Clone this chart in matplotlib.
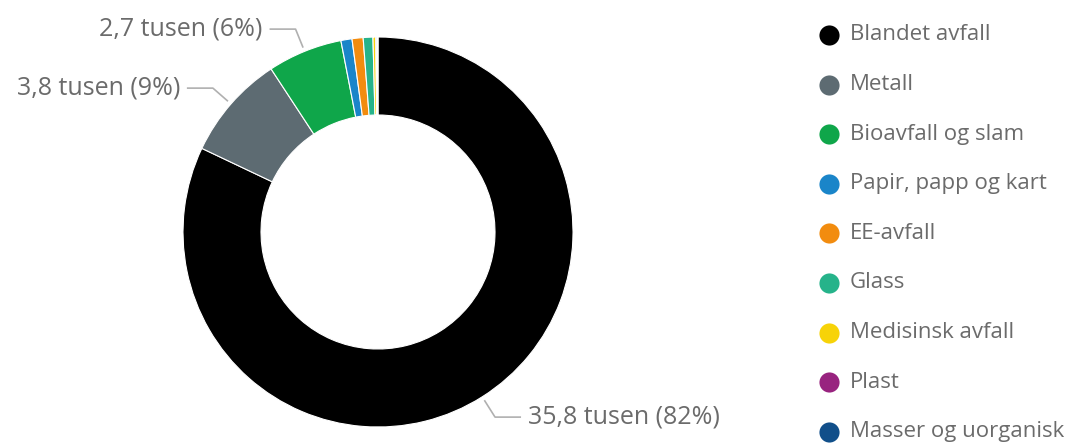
import numpy as np
import matplotlib.pyplot as plt

plt.rcParams['font.family'] = ['Open Sans', 'DejaVu Sans']

# avfallstyper (tusen tonn)
categories = ['Blandet avfall', 'Metall', 'Bioavfall og slam', 'Papir, papp og kart',
              'EE-avfall', 'Glass', 'Medisinsk avfall', 'Plast', 'Masser og uorganisk']
values = [35.8, 3.8, 2.7, 0.4, 0.4, 0.35, 0.1, 0.04, 0.04]
colors = ['#000000', '#5d6b72', '#0fa64a', '#1a85c9', '#f28c0f',
          '#26b38a', '#f7d308', '#98237f', '#114f8a']
label_texts = {0: '35,8 tusen (82%)', 1: '3,8 tusen (9%)', 2: '2,7 tusen (6%)'}

W, H = 1075, 444
fig = plt.figure(figsize=(W / 100, H / 100), dpi=100)
ax = fig.add_axes([0, 0, 1, 1])

cx, cy, R = 378, 212, 195
wedges, _ = ax.pie(values, colors=colors, startangle=90, counterclock=False,
                   center=(cx, cy), radius=R, frame=True,
                   wedgeprops=dict(width=R * 0.4, edgecolor='white', linewidth=0.8))
ax.set_xlim(0, W)
ax.set_ylim(0, H)
ax.set_aspect('equal')
ax.axis('off')

txt_col = '#6b6b6b'
line_col = '#b0b0b0'
for i, lab in label_texts.items():
    w = wedges[i]
    ang = np.deg2rad((w.theta1 + w.theta2) / 2)
    d = np.array([np.cos(ang), np.sin(ang)])
    p0 = np.array([cx, cy]) + (R + 4) * d
    p1 = np.array([cx, cy]) + (R + 24) * d
    side = 1 if d[0] > 0 else -1
    p2 = p1 + np.array([side * 26, 0])
    ax.plot([p0[0], p1[0], p2[0]], [p0[1], p1[1], p2[1]], color=line_col, lw=1.2,
            solid_capstyle='butt')
    ax.text(p2[0] + side * 7, p2[1], lab, ha='left' if side > 0 else 'right',
            va='center', fontsize=18, color=txt_col)

# legend
lx, ly0, dy = 829, H - 35, 49.6
for k, (name, c) in enumerate(zip(categories, colors)):
    y = ly0 - k * dy
    ax.plot(lx, y, 'o', color=c, markersize=14.5, markeredgewidth=0)
    ax.text(lx + 21, y, name, ha='left', va='center', fontsize=16, color=txt_col)

fig.savefig('out.png', dpi=100, facecolor='w')
